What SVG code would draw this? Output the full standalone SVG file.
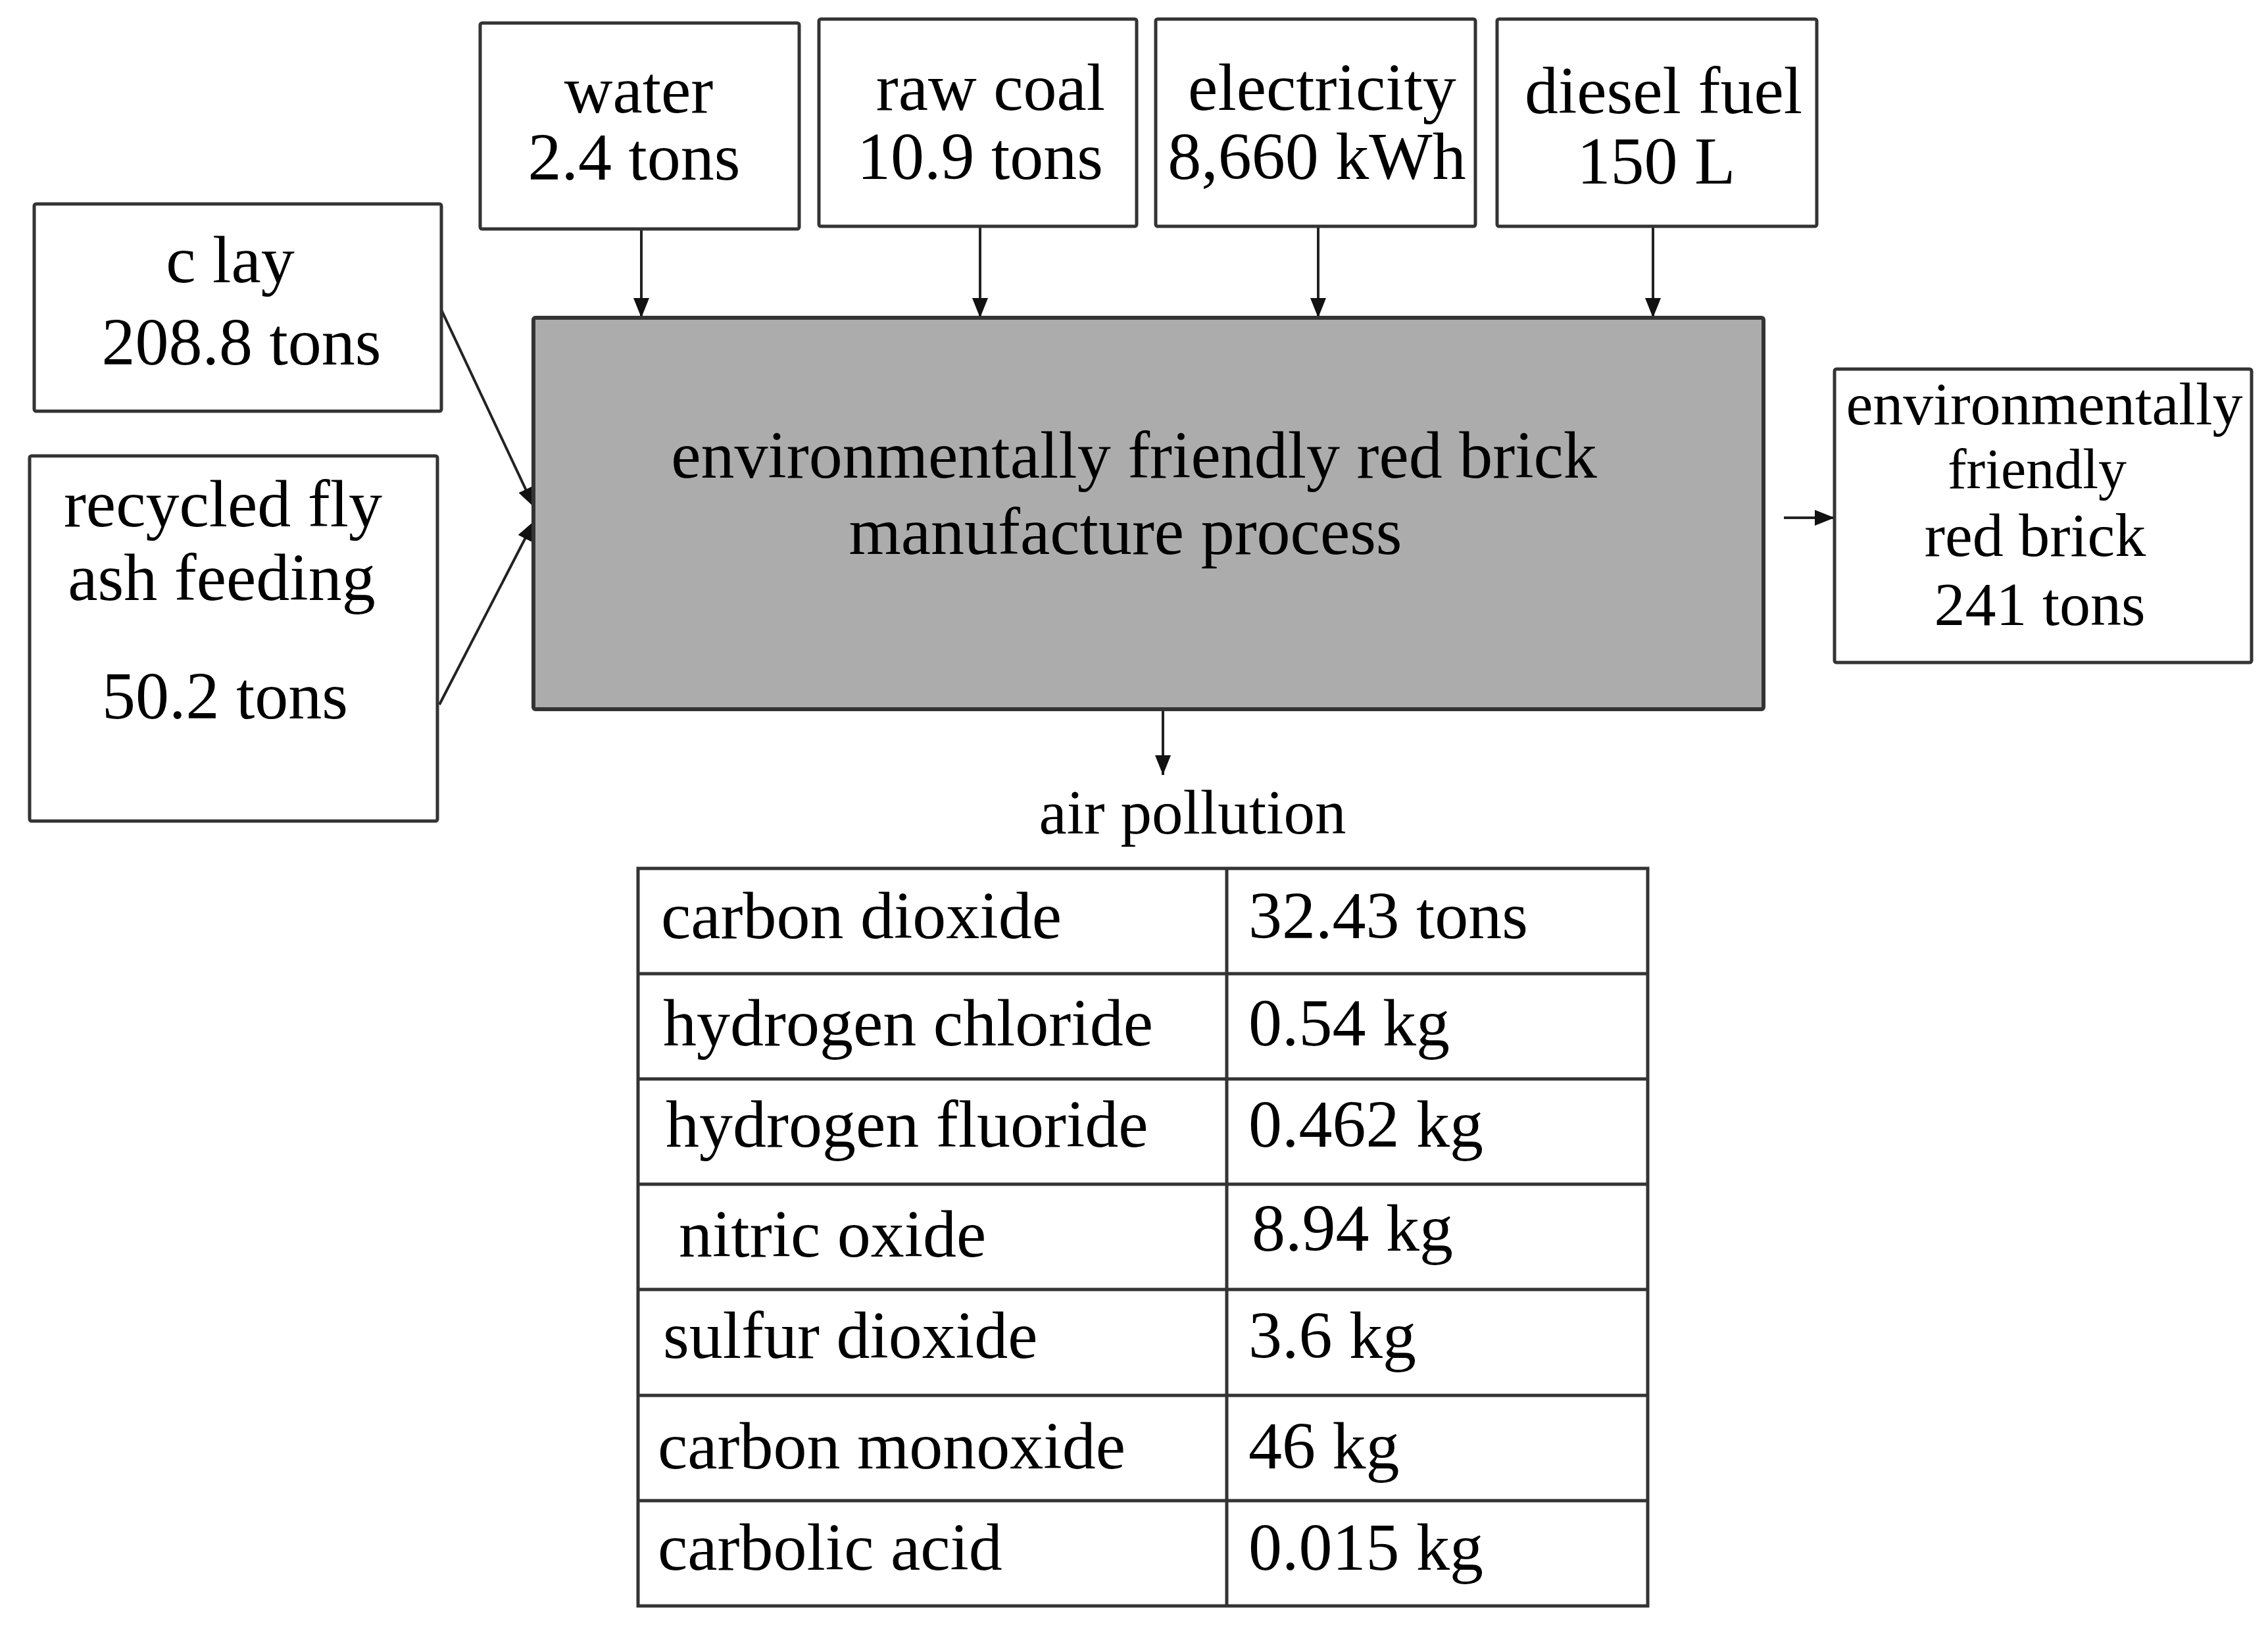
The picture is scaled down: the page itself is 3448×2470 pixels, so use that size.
<svg xmlns="http://www.w3.org/2000/svg" width="3448" height="2470" viewBox="0 0 3448 2470">
<style>
.box{fill:#fff;stroke:#333;stroke-width:5}
.main{fill:#acacac;stroke:#333;stroke-width:6}
.t{font-family:"Liberation Serif","Times New Roman",serif;font-size:102px;fill:#000}
.m{text-anchor:middle}
.c{stroke:#222;stroke-width:4;fill:none}
.grid{stroke:#333;stroke-width:5;fill:none}
</style>
<defs>
<marker id="ah" markerUnits="userSpaceOnUse" markerWidth="30" markerHeight="24" refX="30" refY="12" orient="auto">
<path d="M0,0 L30,12 L0,24 z" fill="#111"/>
</marker>
</defs>
<rect width="3448" height="2470" fill="#fff"/>
<g id="connectors">
<line class="c" x1="975" y1="348" x2="975" y2="483" marker-end="url(#ah)"/>
<line class="c" x1="1490" y1="344" x2="1490" y2="483" marker-end="url(#ah)"/>
<line class="c" x1="2004" y1="344" x2="2004" y2="483" marker-end="url(#ah)"/>
<line class="c" x1="2513" y1="344" x2="2513" y2="483" marker-end="url(#ah)"/>
<line class="c" x1="671" y1="471" x2="812" y2="771" marker-end="url(#ah)"/>
<line class="c" x1="668" y1="1071" x2="812" y2="792" marker-end="url(#ah)"/>
<line class="c" x1="2712" y1="787" x2="2789" y2="787" marker-end="url(#ah)"/>
<line class="c" x1="1768" y1="1078" x2="1768" y2="1178" marker-end="url(#ah)"/>
</g>
<g id="water">
<rect class="box" x="730" y="35" width="485" height="313" rx="3"/>
<text class="t m" x="971" y="171">water</text>
<text class="t m" x="964" y="273">2.4 tons</text>
</g>
<g id="rawcoal">
<rect class="box" x="1245" y="29" width="483" height="315" rx="3"/>
<text class="t m" x="1506" y="167">raw coal</text>
<text class="t m" x="1490" y="272">10.9 tons</text>
</g>
<g id="electricity">
<rect class="box" x="1757" y="29" width="486" height="315" rx="3"/>
<text class="t m" x="2010" y="167">electricity</text>
<text class="t m" x="2002" y="272">8,660 kWh</text>
</g>
<g id="diesel">
<rect class="box" x="2276" y="29" width="486" height="315" rx="3"/>
<text class="t m" x="2529" y="172">diesel fuel</text>
<text class="t m" x="2518" y="279">150 L</text>
</g>
<g id="clay">
<rect class="box" x="52" y="310" width="619" height="315" rx="3"/>
<text class="t m" x="350" y="429">c lay</text>
<text class="t m" x="367" y="554">208.8 tons</text>
</g>
<g id="flyash">
<rect class="box" x="45" y="693" width="620" height="555" rx="3"/>
<text class="t m" x="339" y="800">recycled fly</text>
<text class="t m" x="337" y="912">ash feeding</text>
<text class="t m" x="342" y="1092">50.2 tons</text>
</g>
<g id="process">
<rect class="main" x="811" y="483" width="1870" height="595" rx="3"/>
<text class="t m" x="1724" y="726">environmentally  friendly red brick</text>
<text class="t m" x="1711" y="842">manufacture process</text>
</g>
<g id="product">
<rect class="box" x="2789" y="561" width="634" height="446" rx="3"/>
<text class="t m" x="3108" y="645" style="font-size:92px">environmentally</text>
<text class="t m" x="3097" y="742" style="font-size:86px">friendly</text>
<text class="t m" x="3094" y="845" style="font-size:94px">red brick</text>
<text class="t m" x="3101" y="950" style="font-size:94px">241 tons</text>
</g>
<g id="airpollution">
<text class="t m" x="1813" y="1267" style="font-size:95px">air pollution</text>
<rect class="grid" x="970" y="1320" width="1535" height="1121"/>
<line class="grid" x1="1865" y1="1320" x2="1865" y2="2441"/>
<line class="grid" x1="970" y1="1480" x2="2505" y2="1480"/>
<line class="grid" x1="970" y1="1640" x2="2505" y2="1640"/>
<line class="grid" x1="970" y1="1800" x2="2505" y2="1800"/>
<line class="grid" x1="970" y1="1960" x2="2505" y2="1960"/>
<line class="grid" x1="970" y1="2121" x2="2505" y2="2121"/>
<line class="grid" x1="970" y1="2281" x2="2505" y2="2281"/>
<text class="t" x="1005" y="1426">carbon dioxide</text>
<text class="t" x="1898" y="1426">32.43 tons</text>
<text class="t" x="1008" y="1589">hydrogen chloride</text>
<text class="t" x="1898" y="1589">0.54 kg</text>
<text class="t" x="1012" y="1743">hydrogen fluoride</text>
<text class="t" x="1898" y="1743">0.462 kg</text>
<text class="t" x="1032" y="1910">nitric oxide</text>
<text class="t" x="1903" y="1901">8.94 kg</text>
<text class="t" x="1008" y="2064">sulfur dioxide</text>
<text class="t" x="1898" y="2064">3.6 kg</text>
<text class="t" x="1000" y="2232">carbon monoxide</text>
<text class="t" x="1898" y="2232">46 kg</text>
<text class="t" x="1000" y="2386">carbolic acid</text>
<text class="t" x="1898" y="2386">0.015 kg</text>
</g>
</svg>
